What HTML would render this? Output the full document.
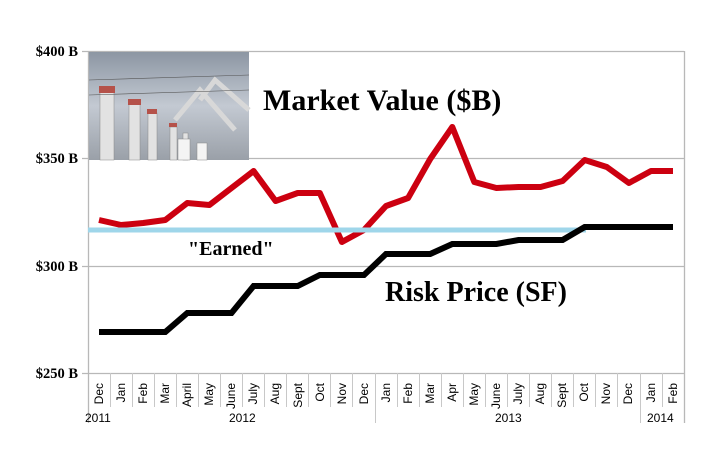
<!DOCTYPE html>
<html><head><meta charset="utf-8"><style>
body{margin:0;background:#fff}
svg{display:block}
</style></head><body>
<svg width="712" height="451" xmlns="http://www.w3.org/2000/svg">
<defs>
<linearGradient id="sky" x1="0" y1="0" x2="0" y2="1">
<stop offset="0" stop-color="#8c96a3"/><stop offset="0.5" stop-color="#c3c9d2"/><stop offset="1" stop-color="#9aa0a8"/>
</linearGradient>
</defs>
<g stroke="#b8b8b8" stroke-width="1.3">
<line x1="82" y1="51.5" x2="684" y2="51.5"/>
<line x1="82" y1="158.5" x2="684" y2="158.5"/>
<line x1="82" y1="266.5" x2="684" y2="266.5"/>
<line x1="82" y1="373.5" x2="684" y2="373.5"/>
<line x1="88.5" y1="51" x2="88.5" y2="423"/>
<line x1="684.5" y1="51" x2="684.5" y2="423"/>
</g>
<g stroke="#c8c8c8" stroke-width="1">
<line x1="110.5" y1="373" x2="110.5" y2="407"/><line x1="132.5" y1="373" x2="132.5" y2="407"/><line x1="154.5" y1="373" x2="154.5" y2="407"/><line x1="176.5" y1="373" x2="176.5" y2="407"/><line x1="198.5" y1="373" x2="198.5" y2="407"/><line x1="220.5" y1="373" x2="220.5" y2="407"/><line x1="242.5" y1="373" x2="242.5" y2="407"/><line x1="264.5" y1="373" x2="264.5" y2="407"/><line x1="286.5" y1="373" x2="286.5" y2="407"/><line x1="308.5" y1="373" x2="308.5" y2="407"/><line x1="330.5" y1="373" x2="330.5" y2="407"/><line x1="352.5" y1="373" x2="352.5" y2="407"/><line x1="375.5" y1="373" x2="375.5" y2="423"/><line x1="397.5" y1="373" x2="397.5" y2="407"/><line x1="419.5" y1="373" x2="419.5" y2="407"/><line x1="441.5" y1="373" x2="441.5" y2="407"/><line x1="463.5" y1="373" x2="463.5" y2="407"/><line x1="485.5" y1="373" x2="485.5" y2="407"/><line x1="507.5" y1="373" x2="507.5" y2="407"/><line x1="529.5" y1="373" x2="529.5" y2="407"/><line x1="551.5" y1="373" x2="551.5" y2="407"/><line x1="573.5" y1="373" x2="573.5" y2="407"/><line x1="595.5" y1="373" x2="595.5" y2="407"/><line x1="617.5" y1="373" x2="617.5" y2="407"/><line x1="640.5" y1="373" x2="640.5" y2="423"/><line x1="662.5" y1="373" x2="662.5" y2="407"/>
</g>
<g font-family="Liberation Serif, serif" font-weight="bold" font-size="14.5" text-anchor="end">
<text x="78" y="56">$400 B</text><text x="78" y="163">$350 B</text><text x="78" y="271">$300 B</text><text x="78" y="378">$250 B</text>
</g>
<rect x="89" y="52" width="160" height="108" fill="url(#sky)"/>
<g stroke="#d8d8d8" stroke-width="5" fill="none">
<path d="M200 100 L215 80 L249 110"/><path d="M175 120 L200 90 L235 130"/>
</g>
<g fill="#e2e2e2" stroke="#888" stroke-width="0.5">
<rect x="100" y="92" width="14" height="68"/><rect x="129" y="104" width="11" height="56"/><rect x="148" y="113" width="9" height="47"/><rect x="170" y="127" width="7" height="33"/><rect x="183" y="133" width="5" height="27"/>
<rect x="178" y="139" width="12" height="21" fill="#f4f4f4"/><rect x="197" y="143" width="10" height="17" fill="#f4f4f4"/>
</g>
<g fill="#b5524a">
<rect x="99" y="86" width="16" height="7"/><rect x="128" y="99" width="13" height="6"/><rect x="147" y="109" width="10" height="5"/><rect x="169" y="123" width="8" height="4"/>
</g>
<g stroke="#555" stroke-width="0.6"><line x1="89" y1="80" x2="249" y2="75"/><line x1="89" y1="95" x2="249" y2="90"/></g>
<polyline fill="none" stroke="#cc0010" stroke-width="6" stroke-linejoin="round" points="99,220 121.1,225 143.2,223 165.3,220 187.3,203 209.4,205 231.5,188 253.6,171 275.6,201 297.7,193 319.8,193 341.9,242 364,230 386,206 408.1,198 430.2,159 452.3,127 474.3,182 496.4,188 518.5,187 540.6,187 562.6,181 584.7,160 606.8,167 628.9,183 651,171 673,171"/>
<line x1="88" y1="230" x2="586" y2="230" stroke="#9fd6ea" stroke-width="5"/>
<polyline fill="none" stroke="#000" stroke-width="6" points="99,332 121.1,332 143.2,332 165.3,332 187.3,313 209.4,313 231.5,313 253.6,286 275.6,286 297.7,286 319.8,275 341.9,275 364,275 386,254 408.1,254 430.2,254 452.3,244 474.3,244 496.4,244 518.5,240 540.6,240 562.6,240 584.7,227 606.8,227 628.9,227 651,227 673,227"/>
<g font-family="Liberation Serif, serif" font-weight="bold" fill="#000">
<text x="263" y="110" font-size="30">Market Value ($B)</text>
<text x="385" y="301" font-size="28">Risk Price (SF)</text>
<text x="188" y="255" font-size="20">"Earned"</text>
</g>
<g font-family="Liberation Sans, sans-serif" font-size="12" text-anchor="end" fill="#000">
<text transform="translate(103,383) rotate(-90)">Dec</text><text transform="translate(125,383) rotate(-90)">Jan</text><text transform="translate(147,383) rotate(-90)">Feb</text><text transform="translate(169,383) rotate(-90)">Mar</text><text transform="translate(191,383) rotate(-90)">April</text><text transform="translate(213,383) rotate(-90)">May</text><text transform="translate(235,383) rotate(-90)">June</text><text transform="translate(257,383) rotate(-90)">July</text><text transform="translate(279,383) rotate(-90)">Aug</text><text transform="translate(302,383) rotate(-90)">Sept</text><text transform="translate(324,383) rotate(-90)">Oct</text><text transform="translate(346,383) rotate(-90)">Nov</text><text transform="translate(368,383) rotate(-90)">Dec</text><text transform="translate(390,383) rotate(-90)">Jan</text><text transform="translate(412,383) rotate(-90)">Feb</text><text transform="translate(434,383) rotate(-90)">Mar</text><text transform="translate(456,383) rotate(-90)">Apr</text><text transform="translate(478,383) rotate(-90)">May</text><text transform="translate(500,383) rotate(-90)">June</text><text transform="translate(522,383) rotate(-90)">July</text><text transform="translate(544,383) rotate(-90)">Aug</text><text transform="translate(566,383) rotate(-90)">Sept</text><text transform="translate(588,383) rotate(-90)">Oct</text><text transform="translate(610,383) rotate(-90)">Nov</text><text transform="translate(632,383) rotate(-90)">Dec</text><text transform="translate(655,383) rotate(-90)">Jan</text><text transform="translate(677,383) rotate(-90)">Feb</text>
</g>
<g font-family="Liberation Sans, sans-serif" font-size="12" fill="#000">
<text x="85" y="422">2011</text><text x="229" y="422">2012</text><text x="495" y="422">2013</text><text x="647" y="422">2014</text>
</g>
</svg>
</body></html>
